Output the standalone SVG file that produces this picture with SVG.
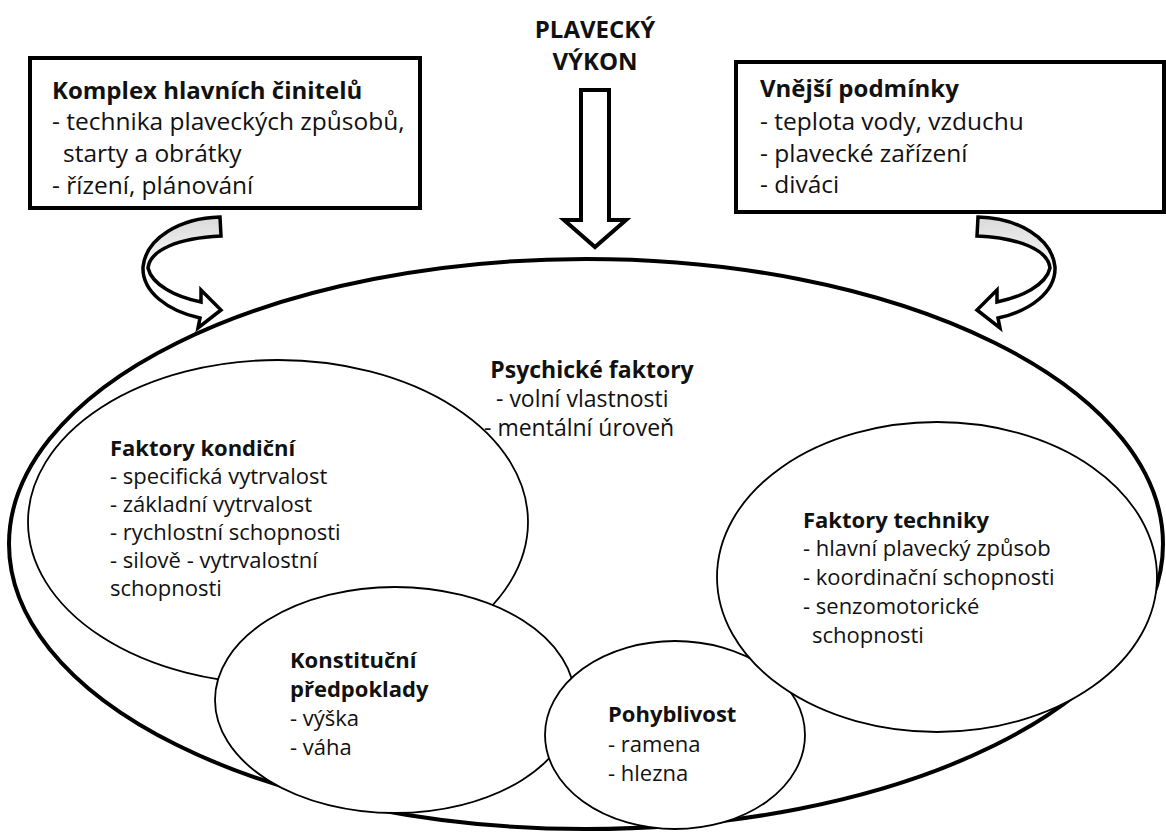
<svg xmlns="http://www.w3.org/2000/svg" width="1166" height="834" viewBox="0 0 1166 834">
<style>
text{font-family:"Open Sans","Noto Sans","Liberation Sans",sans-serif;fill:#111}
.bh{font-size:24px;font-weight:bold}
.bx{font-size:24.5px}
.b{font-weight:bold}
.t{font-size:22px}
.ps{font-size:23px}
.box{fill:#fff;stroke:#000;stroke-width:4}
.outer{fill:#fff;stroke:#000;stroke-width:4}
.inner{fill:#fff;stroke:#000;stroke-width:1.8}
.blk{fill:#fff;stroke:#000;stroke-width:4;stroke-linejoin:miter}
.crv{fill:url(#gr);stroke:#000;stroke-width:3.5;stroke-linejoin:miter}
</style>
<defs>
<linearGradient id="gr" x1="0" y1="0" x2="0" y2="1">
<stop offset="0" stop-color="#d9d9d9"/>
<stop offset="0.3" stop-color="#eeeeee"/>
<stop offset="0.5" stop-color="#ffffff"/>
</linearGradient>
<path id="curv" d="M220 217 C180 218 146 238 143 267 C142 292 168 311 200 318 L198 328 L221 310 L201 290 L201 302 C176 297 152 285 148 268 C150 250 178 238 221 236 Z"/>
</defs>
<rect width="1166" height="834" fill="#fff"/>
<g id="title">
<text class="bh" x="595" y="38" text-anchor="middle">PLAVECKÝ</text>
<text class="bh" x="595" y="70" text-anchor="middle">VÝKON</text>
</g>
<g id="box-left">
<rect class="box" x="30" y="58" width="390" height="150"/>
<text class="bh" x="52" y="99">Komplex hlavních činitelů</text>
<text class="bx" x="52" y="130">- technika plaveckých způsobů,</text>
<text class="bx" x="63" y="162">starty a obrátky</text>
<text class="bx" x="52" y="194">- řízení, plánování</text>
</g>
<g id="box-right">
<rect class="box" x="736" y="62" width="428" height="150"/>
<text class="bh" x="760" y="97">Vnější podmínky</text>
<text class="bx" x="760" y="130">- teplota vody, vzduchu</text>
<text class="bx" x="760" y="162">- plavecké zařízení</text>
<text class="bx" x="760" y="193">- diváci</text>
</g>
<g id="connectors">
<path class="blk" d="M581 90 H609 V220 H626 L595 247 L564 220 H581 Z"/>
<use href="#curv" class="crv"/>
<use href="#curv" class="crv" transform="translate(1198 0) scale(-1 1)"/>
</g>
<g id="vykon">
<ellipse class="outer" cx="586" cy="544" rx="577" ry="285"/>
</g>
<g id="psychicke">
<text class="ps b" x="592" y="378" text-anchor="middle">Psychické faktory</text>
<text class="ps" x="496" y="407">- volní vlastnosti</text>
<text class="ps" x="484" y="436">- mentální úroveň</text>
</g>
<g id="kondicni">
<ellipse class="inner" cx="278" cy="522" rx="250" ry="162"/>
<text class="t b" x="110" y="456">Faktory kondiční</text>
<text class="t" x="110" y="484">- specifická vytrvalost</text>
<text class="t" x="110" y="512">- základní vytrvalost</text>
<text class="t" x="110" y="540">- rychlostní schopnosti</text>
<text class="t" x="110" y="568">- silově - vytrvalostní</text>
<text class="t" x="110" y="596">schopnosti</text>
</g>
<g id="konstitucni">
<ellipse class="inner" cx="395" cy="700" rx="180" ry="113"/>
<text class="t b" x="290" y="668">Konstituční</text>
<text class="t b" x="290" y="697">předpoklady</text>
<text class="t" x="290" y="726">- výška</text>
<text class="t" x="290" y="755">- váha</text>
</g>
<g id="pohyblivost">
<ellipse class="inner" cx="675" cy="735" rx="130" ry="94"/>
<text class="t b" x="608" y="722">Pohyblivost</text>
<text class="t" x="608" y="752">- ramena</text>
<text class="t" x="608" y="781">- hlezna</text>
</g>
<g id="techniky">
<ellipse class="inner" cx="937" cy="577" rx="220" ry="155"/>
<text class="t b" x="803" y="528">Faktory techniky</text>
<text class="t" x="803" y="556">- hlavní plavecký způsob</text>
<text class="t" x="803" y="585">- koordinační schopnosti</text>
<text class="t" x="803" y="614">- senzomotorické</text>
<text class="t" x="812" y="643">schopnosti</text>
</g>
</svg>
